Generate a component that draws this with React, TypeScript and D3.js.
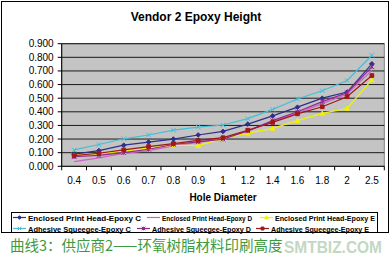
import React from "react";
import * as d3 from "d3";

const categories = ["0.4", "0.5", "0.6", "0.7", "0.8", "0.9", "1", "1.2", "1.4", "1.6", "1.8", "2", "2.5"];
const yTicks = [0, 0.1, 0.2, 0.3, 0.4, 0.5, 0.6, 0.7, 0.8, 0.9];

const enclosedC = [0.09, 0.115, 0.155, 0.178, 0.2, 0.23, 0.256, 0.31, 0.37, 0.434, 0.5, 0.545, 0.752];
const enclosedD = [0.034, 0.062, 0.095, 0.115, 0.15, 0.175, 0.205, 0.26, 0.33, 0.39, 0.46, 0.53, 0.705];
const enclosedE = [0.08, 0.095, 0.11, 0.135, 0.155, 0.152, 0.205, 0.243, 0.278, 0.335, 0.389, 0.425, 0.634];
const adhesiveC = [0.12, 0.16, 0.202, 0.23, 0.265, 0.288, 0.303, 0.35, 0.418, 0.494, 0.555, 0.63, 0.815];
const adhesiveD = [0.07, 0.08, 0.1, 0.125, 0.16, 0.18, 0.2, 0.26, 0.335, 0.4, 0.475, 0.54, 0.73];
const adhesiveE = [0.078, 0.096, 0.12, 0.145, 0.167, 0.19, 0.21, 0.265, 0.322, 0.385, 0.437, 0.511, 0.666];

const seriesNames = [
  "Enclosed Print Head-Epoxy C",
  "Enclosed Print Head-Epoxy D",
  "Enclosed Print Head-Epoxy E",
  "Adhesive Squeegee-Epoxy C",
  "Adhesive Squeegee-Epoxy D",
  "Adhesive Squeegee-Epoxy E",
];
const seriesValues = [enclosedC, enclosedD, enclosedE, adhesiveC, adhesiveD, adhesiveE];
const seriesColors = ["#2E2E8C", "#D060C8", "#F2F200", "#40C0D8", "#8E2A8E", "#A01818"];
const seriesMarkers = ["diamond", "none", "triangle", "x", "star", "square"];

const title = "Vendor 2 Epoxy Height";
const xTitle = "Hole Diameter";
const caption = "曲线3：供应商2——环氧树脂材料印刷高度";
const watermark = "SMTBIZ.COM";

function markerPath(kind: string, s: number): string {
  switch (kind) {
    case "diamond":
      return `M0,${-s}L${s},0L0,${s}L${-s},0Z`;
    case "square":
      return `M${-s * 0.8},${-s * 0.8}H${s * 0.8}V${s * 0.8}H${-s * 0.8}Z`;
    case "triangle":
      return `M0,${-s}L${s},${s * 0.8}L${-s},${s * 0.8}Z`;
    case "x":
      return `M${-s},${-s}L${s},${s}M${-s},${s}L${s},${-s}`;
    case "star":
      return `M${-s},${-s}L${s},${s}M${-s},${s}L${s},${-s}M0,${-s}V${s}`;
    default:
      return "";
  }
}

export default function App() {
  const plotL = 61.7, plotR = 384.3, plotT = 43.7, plotB = 166.3;
  const x = d3.scaleBand().domain(categories).range([plotL, plotR]);
  const y = d3.scaleLinear().domain([0, 0.9]).range([plotB, plotT]);
  const fmt = d3.format(".3f");
  const line = d3
    .line<number>()
    .x((_, i) => (x(categories[i]) as number) + x.bandwidth() / 2)
    .y((d) => y(d));

  const font = "Arial, 'Liberation Sans', sans-serif";

  // legend layout: per row column starts and text widths
  const legendCols = [
    [13, 147, 260],
    [13, 137, 256],
  ];
  const legendWidths = [
    [113, 90, 100],
    [103, 99, 98],
  ];
  const legendRows = [217.5, 228.5];

  return (
    <svg
      width={392}
      height={256}
      style={{ position: "absolute", left: 0, top: 0, background: "#fff" }}
      fontFamily={font}
    >
      <rect x={0} y={0} width={392} height={256} fill="#fff" />
      {/* chart border */}
      <rect x={1.5} y={1.5} width={387} height={231} fill="none" stroke="#000" strokeWidth={1} />
      <text x={196} y={20.5} textAnchor="middle" fontSize={12} fontWeight="bold">
        {title}
      </text>
      {/* plot area */}
      <rect x={plotL} y={plotT} width={plotR - plotL} height={plotB - plotT} fill="#C4C4C4" stroke="#808080" />
      {yTicks.map((t) => (
        <g key={t}>
          {t > 0 && (
            <line x1={plotL} x2={plotR} y1={y(t)} y2={y(t)} stroke="#1a1a1a" strokeWidth={1} />
          )}
          <line x1={plotL - 4} x2={plotL} y1={y(t)} y2={y(t)} stroke="#000" />
          <text x={plotL - 8} y={y(t) + 3.5} textAnchor="end" fontSize={10}>
            {fmt(t)}
          </text>
        </g>
      ))}
      {/* axes */}
      <line x1={plotL} x2={plotL} y1={plotT} y2={plotB} stroke="#000" />
      <line x1={plotL} x2={plotR} y1={plotB} y2={plotB} stroke="#000" />
      {categories.map((c) => (
        <g key={c}>
          <line x1={x(c) as number} x2={x(c) as number} y1={plotB} y2={plotB + 4} stroke="#000" />
          <text x={(x(c) as number) + x.bandwidth() / 2} y={plotB + 18} textAnchor="middle" fontSize={10}>
            {c}
          </text>
        </g>
      ))}
      <line x1={plotR} x2={plotR} y1={plotB} y2={plotB + 4} stroke="#000" />
      <text x={(plotL + plotR) / 2} y={201} textAnchor="middle" fontSize={10} fontWeight="bold">
        {xTitle}
      </text>
      {/* series */}
      {seriesValues.map((vals, si) => (
        <g key={si}>
          <path d={line(vals) || ""} fill="none" stroke={seriesColors[si]} strokeWidth={1.2} />
          {vals.map((v, i) => {
            const cx = (x(categories[i]) as number) + x.bandwidth() / 2;
            const m = seriesMarkers[si];
            const filled = m === "diamond" || m === "square" || m === "triangle";
            return (
              <path
                key={i}
                transform={`translate(${cx},${y(v)})`}
                d={markerPath(m, 2.3)}
                fill={filled ? seriesColors[si] : "none"}
                stroke={seriesColors[si]}
                strokeWidth={1}
              />
            );
          })}
        </g>
      ))}
      {/* legend */}
      <rect x={11.5} y={212.5} width={366} height={20} fill="#fff" stroke="#000" />
      {seriesNames.map((n, si) => {
        const col = si % 3;
        const row = Math.floor(si / 3);
        const lx = legendCols[row][col];
        const ly = legendRows[row];
        return (
          <g key={n}>
            <line x1={lx} x2={lx + 13} y1={ly} y2={ly} stroke={seriesColors[si]} strokeWidth={1.2} />
            <path
              transform={`translate(${lx + 6.5},${ly})`}
              d={markerPath(seriesMarkers[si], 1.8)}
              fill={["diamond", "square", "triangle"].includes(seriesMarkers[si]) ? seriesColors[si] : "none"}
              stroke={seriesColors[si]}
            />
            <text
              x={lx + 15}
              y={ly + 3}
              fontSize={8}
              fontWeight="bold"
              textLength={legendWidths[row][col]}
              lengthAdjust="spacingAndGlyphs"
            >
              {n}
            </text>
          </g>
        );
      })}
      {/* caption */}
      <text x={10} y={251} fontSize={14.5} fill="#3f9a3f" fontFamily="'Noto Sans CJK SC', sans-serif">
        {caption}
      </text>
      {/* watermark */}
      <text
        x={284}
        y={253}
        fontSize={17}
        fontWeight="bold"
        fill="#a9c8a9"
        opacity={0.7}
        textLength={98}
        lengthAdjust="spacingAndGlyphs"
      >
        {watermark}
      </text>
    </svg>
  );
}
